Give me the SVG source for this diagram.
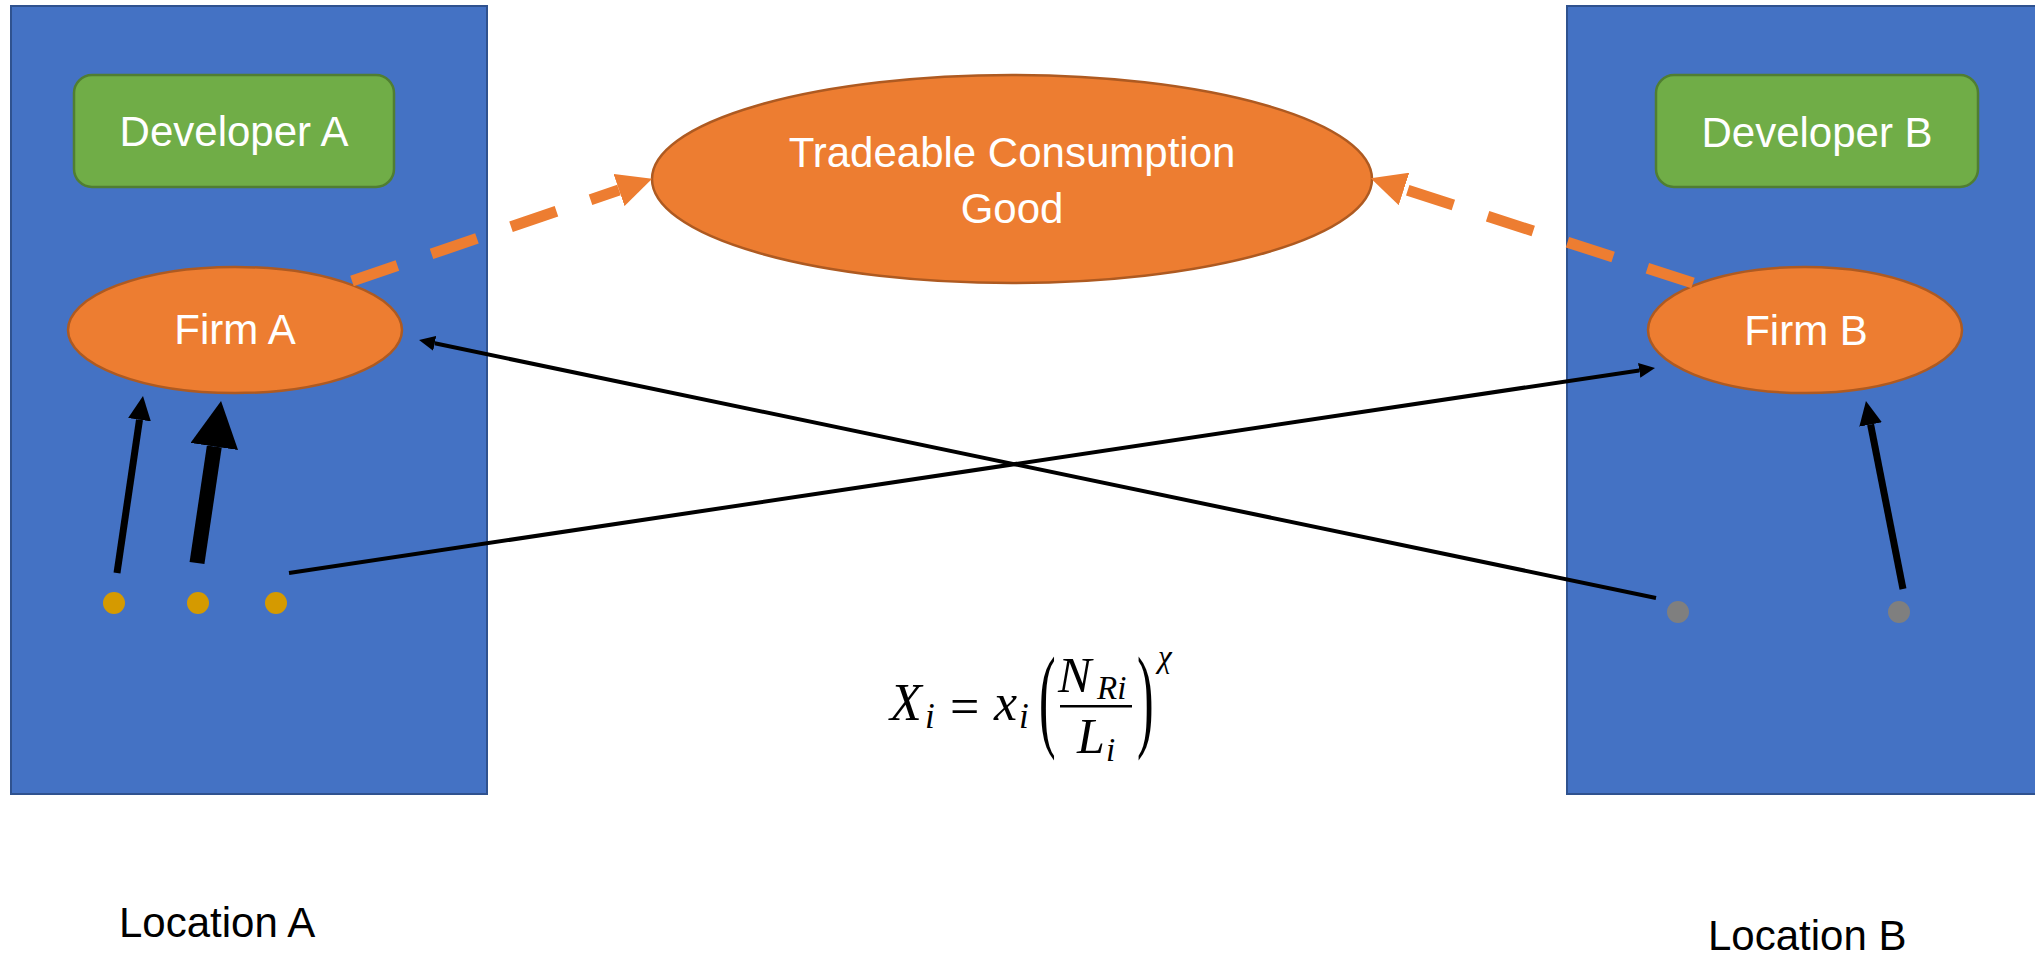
<svg xmlns="http://www.w3.org/2000/svg" width="2035" height="955" viewBox="0 0 2035 955">
<style>
.loc{fill:#4472C4;stroke:#2F528F;stroke-width:2}
.dev{fill:#70AD47;stroke:#507E32;stroke-width:2.5}
.firm{fill:#ED7D31;stroke:#AE5A21;stroke-width:2.5}
.lbl{font-family:"Liberation Sans",Arial,sans-serif;font-size:42px;fill:#FFFFFF;text-anchor:middle}
.loclbl{font-family:"Liberation Sans",Arial,sans-serif;font-size:42px;fill:#000000}
.dotA{fill:#D59A00}
.dotB{fill:#7F7F7F}
.dash{fill:none;stroke:#ED7D31;stroke-width:11;stroke-dasharray:48 36}
.blk{fill:none;stroke:#000000}
.m{font-family:"Liberation Serif","Times New Roman",serif;fill:#000000}
.mi{font-style:italic}
</style>
<defs>
<marker id="ah-o" markerUnits="userSpaceOnUse" viewBox="0 -17 35 34" refX="0" refY="0" markerWidth="35" markerHeight="34" orient="auto"><path d="M0,-17 L35,0 L0,17 z" fill="#ED7D31"/></marker>
<marker id="ah-s" markerUnits="userSpaceOnUse" viewBox="0 -8 16 16" refX="0" refY="0" markerWidth="16" markerHeight="16" orient="auto"><path d="M0,-7.5 L16,0 L0,7.5 z" fill="#000"/></marker>
<marker id="ah-m" markerUnits="userSpaceOnUse" viewBox="0 -12 24 24" refX="0" refY="0" markerWidth="24" markerHeight="24" orient="auto"><path d="M0,-11.5 L24,0 L0,11.5 z" fill="#000"/></marker>
<marker id="ah-l" markerUnits="userSpaceOnUse" viewBox="0 -24 46 48" refX="0" refY="0" markerWidth="46" markerHeight="48" orient="auto"><path d="M0,-24 L46,0 L0,24 z" fill="#000"/></marker>
</defs>
<rect width="2035" height="955" fill="#FFFFFF"/>

<g id="location-a">
<rect class="loc" x="11" y="6" width="476" height="788"/>
<text class="loclbl" x="119" y="937">Location A</text>
</g>
<g id="location-b">
<rect class="loc" x="1567" y="6" width="480" height="788"/>
<text class="loclbl" x="1708" y="950">Location B</text>
</g>

<g id="developer-a">
<rect class="dev" x="74" y="75" width="320" height="112" rx="18"/>
<text class="lbl" x="234" y="146">Developer A</text>
</g>
<g id="developer-b">
<rect class="dev" x="1656" y="75" width="322" height="112" rx="18"/>
<text class="lbl" x="1817" y="147">Developer B</text>
</g>

<g id="tradeable-good">
<ellipse class="firm" cx="1012" cy="179" rx="360" ry="104"/>
<text class="lbl" x="1012" y="167">Tradeable Consumption</text>
<text class="lbl" x="1012" y="223">Good</text>
</g>

<g id="firm-a">
<ellipse class="firm" cx="235" cy="330" rx="167" ry="63"/>
<text class="lbl" x="235" y="344">Firm A</text>
</g>
<g id="firm-b">
<ellipse class="firm" cx="1805" cy="330" rx="157" ry="63"/>
<text class="lbl" x="1806" y="345">Firm B</text>
</g>

<g id="workers-a">
<circle class="dotA" cx="114" cy="603" r="11"/>
<circle class="dotA" cx="198" cy="603" r="11"/>
<circle class="dotA" cx="276" cy="603" r="11"/>
</g>
<g id="workers-b">
<circle class="dotB" cx="1678" cy="612" r="11"/>
<circle class="dotB" cx="1899" cy="612" r="11"/>
</g>

<g id="connectors">
<path class="dash" d="M352,281 L619,190" marker-end="url(#ah-o)"/>
<path class="dash" d="M1693,283 L1404,189" marker-end="url(#ah-o)"/>
<path class="blk" stroke-width="4" d="M1656,598 L434.7,343.3" marker-end="url(#ah-s)"/>
<path class="blk" stroke-width="4" d="M289,573 L1639.2,370.4" marker-end="url(#ah-s)"/>
<path class="blk" stroke-width="7" d="M117,573 L139.5,419.7" marker-end="url(#ah-m)"/>
<path class="blk" stroke-width="15" d="M197,563 L214.3,446.5" marker-end="url(#ah-l)"/>
<path class="blk" stroke-width="7" d="M1903,589 L1870.6,424.5" marker-end="url(#ah-m)"/>
</g>

<g id="formula">
<text class="m mi" x="890" y="720" font-size="52">X</text>
<text class="m mi" x="925" y="728" font-size="35">i</text>
<text class="m" x="950" y="724" font-size="52">=</text>
<text class="m mi" x="994" y="720" font-size="52">x</text>
<text class="m mi" x="1019" y="728" font-size="35">i</text>
<text class="m" font-size="50" transform="translate(1039,736) scale(1,2.3)">(</text>
<text class="m mi" x="1058" y="692" font-size="50">N</text>
<text class="m mi" x="1097" y="699" font-size="33">Ri</text>
<rect x="1060" y="705" width="72" height="2.5" fill="#000"/>
<text class="m mi" x="1077" y="753" font-size="50">L</text>
<text class="m mi" x="1106" y="761" font-size="33">i</text>
<text class="m" font-size="50" transform="translate(1137,736) scale(1,2.3)">)</text>
<text class="m mi" x="1158" y="667" font-size="31">χ</text>
</g>
</svg>
